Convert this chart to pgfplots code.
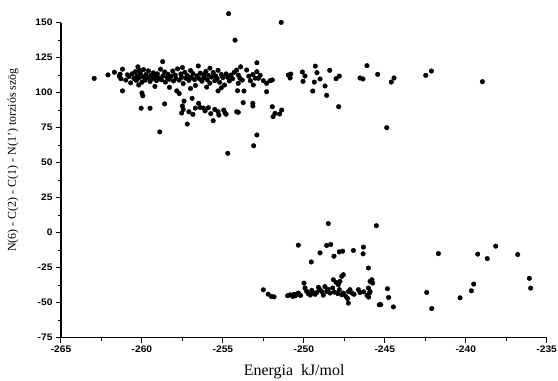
\documentclass[border=0pt]{standalone}
\usepackage{fontspec}
\setmainfont{Liberation Serif}
\newfontfamily\arialfont[FakeStretch=1.08]{Liberation Sans}
\usepackage{pgfplots}
\pgfplotsset{compat=1.18}
\begin{document}
\begin{tikzpicture}
\begin{axis}[
  scale only axis,
  width=485.7bp, height=315bp,
  at={(0,0)}, anchor=south west,
  xmin=-265, xmax=-235, ymin=-75, ymax=150,
  axis x line=bottom, axis y line=left,
  axis line style={-, line width=1.1bp, black},
  xtick={-265,-260,...,-235},
  ytick={-75,-50,...,150},
  minor tick num=1,
  tick align=outside,
  major tick length=5bp, minor tick length=2.8bp,
  tick style={black, line width=1bp},
  ticklabel style={font=\arialfont\bfseries\fontsize{9.5}{10}\selectfont},
  /pgf/number format/assume math mode=true,
  xlabel={Energia\ \ kJ/mol},
  ylabel={N(6) - C(2) - C(1) - N(1') torziós szög},
  xlabel style={font=\fontsize{16}{18}\selectfont, at={(axis description cs:0.48,-0.108)}, anchor=center},
  ylabel style={font=\fontsize{12}{14}\selectfont, at={(axis description cs:-0.0988,0.564)}, anchor=center},
  clip=false,
]
\addplot[only marks, mark=*, mark size=2.3bp, black] coordinates {
(-262.95,110.2) (-262.1,112.7) (-261.7,114.6) (-261.4,111.8) (-261.3,110.0) (-261.2,116.8)
(-261.35,113.2) (-261.2,101.3) (-260.8,111.6) (-260.25,118.5) (-260.15,116.0) (-260.2,105.5)
(-260.0,99.8) (-259.95,97.8) (-260.05,88.9) (-259.5,88.9) (-258.9,72.0) (-258.72,122.2)
(-258.6,92.0) (-257.85,101.3) (-257.7,99.4) (-257.5,90.5) (-257.45,88.0) (-257.4,94.0)
(-257.55,85.5) (-257.2,77.6) (-257.1,86.4) (-256.9,96.0) (-256.85,84.5) (-256.7,89.0)
(-256.5,92.4) (-256.4,89.5) (-256.2,89.0) (-256.1,87.0) (-255.9,89.3) (-255.75,85.0)
(-255.6,80.0) (-255.5,88.0) (-255.3,86.4) (-255.3,101.3) (-255.25,84.0) (-254.95,87.6)
(-254.87,85.7) (-254.8,84.6) (-254.7,56.7) (-254.65,156.5) (-254.25,137.5) (-254.1,101.4)
(-254.15,86.4) (-254.05,86.0) (-253.75,92.9) (-253.7,101.2) (-253.15,92.4) (-253.15,90.5)
(-253.1,62.1) (-252.9,69.8) (-252.9,121.4) (-252.3,100.7) (-251.95,90.0) (-251.9,82.9)
(-251.78,85.3) (-251.5,84.8) (-251.4,150.2) (-251.37,87.6)
(-260.6,113.5) (-260.5,110.2) (-260.4,115.0) (-260.35,108.8) (-260.3,112.0) (-260.2,110.5)
(-260.1,113.8) (-260.0,107.5) (-259.95,111.2) (-259.9,116.5) (-259.8,109.0) (-259.75,113.0)
(-259.65,110.8) (-259.6,115.6) (-259.5,108.0) (-259.45,112.4) (-259.35,110.0) (-259.3,114.2)
(-259.2,111.4) (-259.1,108.6) (-259.05,113.5) (-258.95,110.6) (-258.85,116.8) (-258.8,109.2)
(-258.7,112.0) (-258.6,114.8) (-258.55,107.6) (-258.45,110.8) (-258.4,113.2) (-258.3,109.6)
(-258.2,111.8) (-258.1,115.5) (-258.05,108.4) (-257.95,112.6) (-257.9,110.2) (-257.8,117.0)
(-257.7,109.0) (-257.6,113.4) (-257.55,111.0) (-257.45,106.5) (-257.35,114.6) (-257.3,110.4)
(-257.2,112.2) (-257.1,108.8) (-257.0,115.8) (-256.95,111.0) (-256.85,113.6) (-256.75,109.4)
(-256.7,105.2) (-256.6,112.0) (-256.52,119.1) (-256.45,110.0) (-256.4,114.0) (-256.3,108.2)
(-256.2,112.8) (-256.15,110.6) (-256.05,115.2) (-255.95,109.0) (-255.9,112.4) (-255.8,106.8)
(-255.7,111.2) (-255.6,114.4) (-255.5,108.6) (-255.45,112.0) (-255.35,110.2) (-255.3,116.0)
(-255.2,107.4) (-255.1,113.0) (-255.0,110.8) (-254.9,105.5) (-254.8,113.4) (-254.7,111.0)
(-254.6,108.4) (-254.5,112.6) (-254.4,110.0) (-254.3,114.6) (-254.15,116.2) (-254.05,112.6)
(-253.95,110.3) (-254.05,106.7) (-253.8,109.0) (-253.53,116.2) (-253.4,111.8) (-253.3,108.5)
(-253.15,113.0) (-253.12,105.5) (-253.0,110.4) (-252.9,115.0) (-252.81,110.3) (-252.7,112.4)
(-252.5,108.6) (-252.3,106.7) (-252.09,108.6) (-251.95,109.1)
(-261.0,109.0) (-260.9,112.8) (-260.7,107.0) (-259.2,104.5) (-258.3,103.8) (-257.0,103.0)
(-256.0,104.0) (-255.1,103.5) (-257.5,118.0) (-255.8,117.5) (-253.9,118.5)
(-250.96,112.6) (-250.81,113.3) (-250.85,110.5) (-250.09,114.8) (-249.93,111.9) (-250.05,108.1)
(-249.29,119.0) (-249.19,114.3) (-249.0,109.8) (-249.35,107.6) (-249.45,101.2) (-248.69,104.8)
(-248.59,98.1) (-248.4,116.0) (-248.01,110.0) (-247.81,111.9) (-247.85,90.0) (-246.53,110.5)
(-246.35,109.8) (-246.1,119.3) (-245.44,113.1) (-244.88,75.0) (-244.6,107.6) (-244.43,110.5)
(-242.47,112.4) (-242.12,115.5) (-238.97,107.9)
(-252.5,-40.8) (-252.2,-43.9) (-252.0,-45.6) (-251.84,-45.8)
(-250.85,-44.4) (-250.69,-45.5) (-250.54,-45.1) (-250.44,-44.3) (-250.34,-43.1) (-249.99,-36.0)
(-249.93,-39.5) (-249.82,-42.0) (-249.72,-43.6) (-249.51,-41.2) (-249.41,-43.1) (-249.2,-42.7)
(-249.0,-40.7) (-248.9,-42.0) (-248.59,-42.0) (-248.38,-43.1) (-248.22,-39.5) (-248.18,-33.6)
(-248.01,-35.5) (-247.87,-37.2) (-247.77,-34.8) (-247.66,-31.2) (-247.56,-30.0) (-247.81,-40.7)
(-247.66,-44.3) (-247.56,-43.1) (-247.25,-42.0) (-247.15,-40.7) (-247.04,-43.1) (-247.25,-50.3)
(-246.63,-40.7) (-246.53,-42.7) (-246.01,-25.2) (-245.91,-34.8) (-246.01,-39.5) (-245.91,-42.0)
(-245.95,-43.1) (-245.8,-33.6) (-245.75,-36.0) (-245.34,-51.5)
(-251.0,-45.0) (-250.6,-44.0) (-250.2,-44.8) (-249.6,-44.5) (-249.3,-44.0) (-248.8,-44.6)
(-248.5,-40.5) (-248.1,-42.5) (-247.9,-43.5) (-247.4,-45.5) (-247.3,-47.0) (-246.9,-44.0)
(-246.3,-42.2) (-246.1,-44.8) (-246.0,-46.0) (-249.1,-39.0) (-248.7,-38.5)
(-250.34,-8.9) (-249.54,-20.9) (-249.0,-14.4) (-248.49,6.5) (-248.59,-9.1) (-248.34,-8.4)
(-248.14,-16.8) (-247.81,-13.7) (-247.6,-13.2) (-246.94,-12.7) (-246.32,-10.3) (-246.34,-15.1)
(-245.52,5.0) (-244.84,-40.0) (-244.76,-46.3) (-245.25,-51.3) (-244.47,-53.0) (-242.41,-42.7)
(-242.1,-54.2) (-241.69,-14.9) (-240.35,-46.5) (-239.65,-41.5) (-239.51,-36.7) (-239.26,-15.3)
(-238.67,-18.5) (-238.15,-9.6) (-236.79,-15.6) (-236.07,-32.6) (-235.99,-39.6)
};
\end{axis}
\pgfresetboundingbox
\useasboundingbox (-61bp,-43.3bp) rectangle (497bp,337.7bp);
\end{tikzpicture}
\end{document}
